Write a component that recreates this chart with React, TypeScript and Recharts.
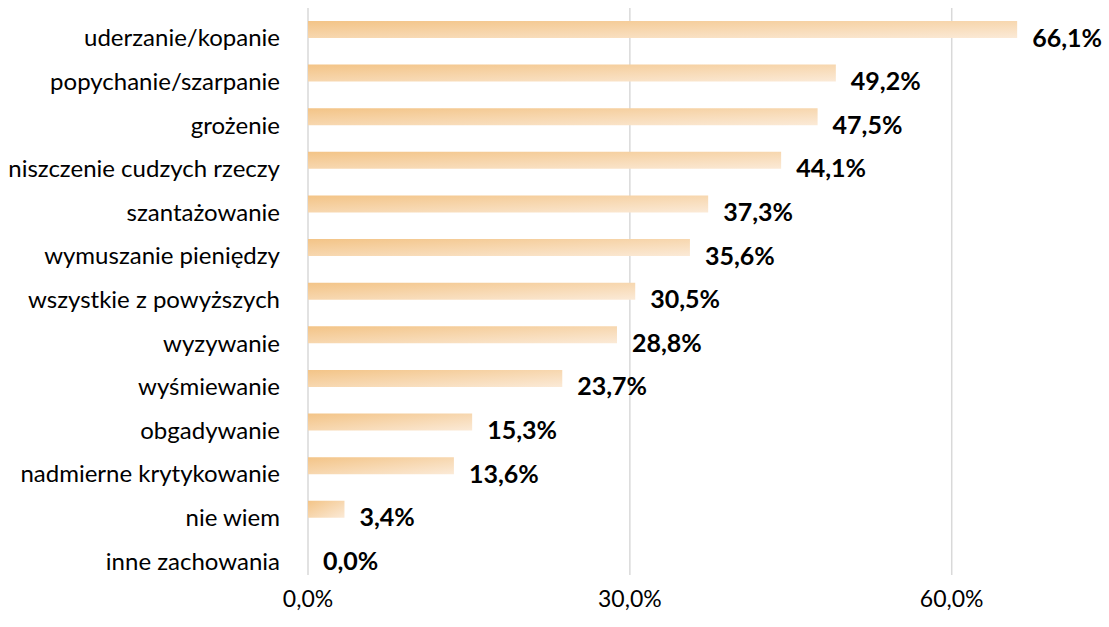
import React from 'react';
import { BarChart, Bar, XAxis, YAxis, CartesianGrid } from 'recharts';

const categories = [
  'uderzanie/kopanie',
  'popychanie/szarpanie',
  'grożenie',
  'niszczenie cudzych rzeczy',
  'szantażowanie',
  'wymuszanie pieniędzy',
  'wszystkie z powyższych',
  'wyzywanie',
  'wyśmiewanie',
  'obgadywanie',
  'nadmierne krytykowanie',
  'nie wiem',
  'inne zachowania',
];

const values = [66.1, 49.2, 47.5, 44.1, 37.3, 35.6, 30.5, 28.8, 23.7, 15.3, 13.6, 3.4, 0.0];

const xTicks = [0, 30, 60];
const xMax = 70;

const data = categories.map((name, i) => ({ name, value: values[i] }));

const FONT = 'Lato, "Open Sans", sans-serif';

const fmt = (v: number) => v.toFixed(1).replace('.', ',') + '%';

const ValueLabel = (props: any) => {
  const { x, y, width, height, value } = props;
  return (
    <text
      x={x + (width || 0) + 15}
      y={y + height / 2 + 7}
      dominantBaseline="central"
      fontFamily={FONT}
      fontWeight="bold"
      fontSize={25}
      fill="#000"
    >
      {fmt(value)}
    </text>
  );
};

const CategoryTick = (props: any) => {
  const { x, y, payload } = props;
  return (
    <text
      x={x}
      y={y + 7}
      textAnchor="end"
      dominantBaseline="central"
      fontFamily={FONT}
      fontSize={24}
      fill="#000"
    >
      {payload.value}
    </text>
  );
};

export default function App() {
  return (
    <div style={{ position: 'absolute', left: 0, top: 0, background: '#fff' }}>
      <BarChart
        width={1109}
        height={627}
        data={data}
        layout="vertical"
        margin={{ top: 8, right: 50, bottom: 0, left: 0 }}
        barSize={17}
      >
        <defs>
          <linearGradient id="barGrad" x1="0" y1="0" x2="1" y2="1">
            <stop offset="0%" stopColor="#F3C487" />
            <stop offset="100%" stopColor="#FBEAD7" />
          </linearGradient>
        </defs>
        <CartesianGrid
          horizontal={false}
          stroke="#D9D9D9"
          strokeWidth={1.5}
          verticalCoordinatesGenerator={({ offset }: any) =>
            xTicks.map((t) => offset.left + (t / xMax) * offset.width)
          }
        />
        <XAxis
          type="number"
          domain={[0, xMax]}
          ticks={xTicks}
          tickFormatter={fmt}
          axisLine={false}
          tickLine={false}
          tickSize={0}
          tickMargin={16}
          height={52}
          tick={{ fill: '#000', fontSize: 23, fontFamily: FONT }}
        />
        <YAxis
          type="category"
          dataKey="name"
          width={308}
          axisLine={false}
          tickLine={false}
          tickSize={0}
          tickMargin={28}
          interval={0}
          tick={<CategoryTick />}
        />
        <Bar
          dataKey="value"
          fill="url(#barGrad)"
          isAnimationActive={false}
          minPointSize={0.01}
          label={<ValueLabel />}
        />
      </BarChart>
    </div>
  );
}
